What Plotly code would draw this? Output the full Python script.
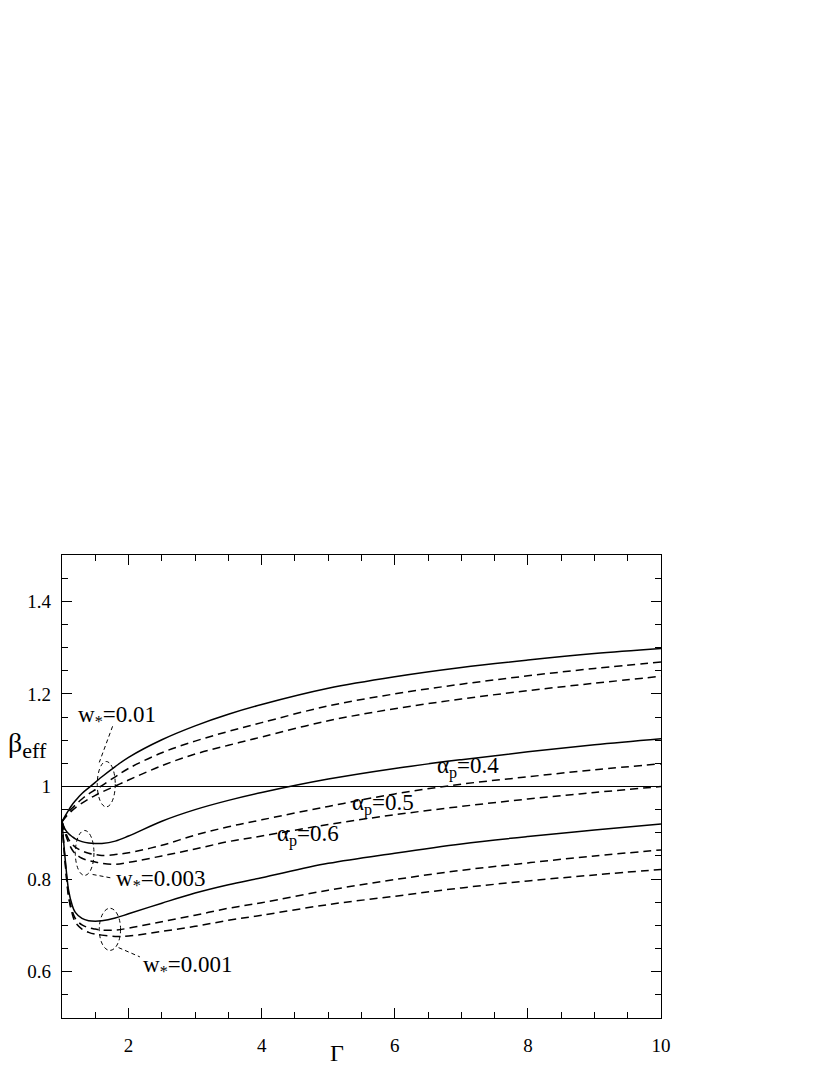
import plotly.graph_objects as go

gamma = [1, 1.05, 1.1, 1.15, 1.2, 1.3, 1.4, 1.5, 1.6, 1.8, 2, 2.5, 3, 3.5, 4, 5, 6, 7, 8, 9, 10]

# w* = 0.01
b_01_a4 = [0.924, 0.937, 0.949, 0.960, 0.969, 0.985, 0.997, 1.009, 1.021, 1.043, 1.063, 1.101, 1.131, 1.156, 1.177, 1.212, 1.237, 1.257, 1.273, 1.287, 1.298]
b_01_a5 = [0.924, 0.935, 0.945, 0.953, 0.960, 0.973, 0.984, 0.993, 1.002, 1.021, 1.039, 1.073, 1.098, 1.119, 1.138, 1.174, 1.200, 1.221, 1.239, 1.255, 1.269]
b_01_a6 = [0.924, 0.933, 0.941, 0.948, 0.954, 0.964, 0.973, 0.981, 0.988, 1.001, 1.014, 1.045, 1.070, 1.089, 1.107, 1.142, 1.168, 1.189, 1.207, 1.223, 1.238]
# w* = 0.003
b_003_a4 = [0.924, 0.907, 0.898, 0.892, 0.887, 0.881, 0.878, 0.877, 0.877, 0.882, 0.893, 0.925, 0.950, 0.970, 0.987, 1.016, 1.039, 1.058, 1.075, 1.090, 1.103]
b_003_a5 = [0.924, 0.902, 0.886, 0.876, 0.869, 0.861, 0.856, 0.853, 0.851, 0.853, 0.857, 0.873, 0.895, 0.913, 0.928, 0.957, 0.984, 1.005, 1.021, 1.036, 1.049]
b_003_a6 = [0.924, 0.898, 0.878, 0.864, 0.855, 0.845, 0.840, 0.837, 0.834, 0.832, 0.836, 0.850, 0.865, 0.881, 0.893, 0.918, 0.939, 0.957, 0.973, 0.987, 1.000]
# w* = 0.001
b_001_a4 = [0.924, 0.840, 0.775, 0.745, 0.728, 0.715, 0.710, 0.709, 0.710, 0.716, 0.725, 0.748, 0.770, 0.788, 0.803, 0.834, 0.856, 0.876, 0.892, 0.906, 0.919]
b_001_a5 = [0.924, 0.835, 0.765, 0.733, 0.715, 0.701, 0.695, 0.692, 0.690, 0.690, 0.694, 0.708, 0.722, 0.737, 0.749, 0.776, 0.799, 0.819, 0.835, 0.850, 0.863]
b_001_a6 = [0.924, 0.830, 0.760, 0.727, 0.707, 0.692, 0.685, 0.681, 0.679, 0.676, 0.677, 0.687, 0.698, 0.711, 0.722, 0.745, 0.763, 0.781, 0.796, 0.809, 0.821]

series = [
    (b_01_a4, 'solid'), (b_01_a5, 'dash'), (b_01_a6, 'dash'),
    (b_003_a4, 'solid'), (b_003_a5, 'dash'), (b_003_a6, 'dash'),
    (b_001_a4, 'solid'), (b_001_a5, 'dash'), (b_001_a6, 'dash'),
]

SERIF = 'Liberation Serif'

fig = go.Figure()
for ys, style in series:
    fig.add_trace(go.Scatter(
        x=gamma, y=ys, mode='lines', line_shape='spline',
        line=dict(color='black', width=1.5, dash='solid' if style == 'solid' else '8px,5px'),
        showlegend=False, hoverinfo='skip'))

# horizontal reference at beta_eff = 1
fig.add_shape(type='line', xref='x', yref='y', x0=1, x1=10, y0=1, y1=1,
              line=dict(color='black', width=1))

# dashed ellipses + leaders marking curve groups
ell = dict(color='black', width=1, dash='4px,3px')
fig.add_shape(type='circle', xref='x', yref='y', x0=1.53, x1=1.80, y0=0.956, y1=1.054, line=ell)
fig.add_shape(type='line', xref='x', yref='y', x0=1.76, y0=1.130, x1=1.56, y1=1.052, line=ell)
fig.add_shape(type='circle', xref='x', yref='y', x0=1.20, x1=1.48, y0=0.808, y1=0.905, line=ell)
fig.add_shape(type='line', xref='x', yref='y', x0=1.46, y0=0.810, x1=1.76, y1=0.802, line=ell)
fig.add_shape(type='circle', xref='x', yref='y', x0=1.56, x1=1.88, y0=0.646, y1=0.737, line=ell)
fig.add_shape(type='line', xref='x', yref='y', x0=1.85, y0=0.652, x1=2.17, y1=0.632, line=ell)

font_lbl = dict(family=SERIF, size=23, color='black')
labels = [
    ('w<sub>*</sub>=0.01', 1.215, 1.152),
    ('w<sub>*</sub>=0.003', 1.785, 0.797),
    ('w<sub>*</sub>=0.001', 2.185, 0.612),
    ('α<sub>p</sub>=0.4', 6.61, 1.040),
    ('α<sub>p</sub>=0.5', 5.33, 0.961),
    ('α<sub>p</sub>=0.6', 4.195, 0.894),
]
for txt, lx, ly in labels:
    fig.add_annotation(x=lx, y=ly, xref='x', yref='y', text=txt, showarrow=False,
                       xanchor='left', yanchor='middle', font=font_lbl)

fig.add_annotation(x=-0.057, y=0.59, xref='paper', yref='paper',
                   text='β<sub><span style="font-size:22px">eff</span></sub>',
                   showarrow=False, xanchor='center', yanchor='middle',
                   font=dict(family=SERIF, size=28, color='black'))
fig.add_annotation(x=0.459, y=-0.075, xref='paper', yref='paper', text='Γ',
                   showarrow=False, xanchor='center', yanchor='middle',
                   font=dict(family=SERIF, size=24, color='black'))

axis_common = dict(
    showline=True, linecolor='black', linewidth=1.3, mirror='allticks',
    ticks='inside', ticklen=10, tickwidth=1.2, tickcolor='black',
    showgrid=False, zeroline=False,
    tickfont=dict(family=SERIF, size=19, color='black'),
)
fig.update_xaxes(range=[1, 10], tickvals=[2, 4, 6, 8, 10], ticktext=['2', '4', '6', '8', '10'],
                 minor=dict(dtick=0.5, tick0=1, ticks='inside', ticklen=6, tickwidth=1.2, tickcolor='black'),
                 ticklabelstandoff=10, **axis_common)
fig.update_yaxes(range=[0.5, 1.5], tickvals=[0.6, 0.8, 1.0, 1.2, 1.4], ticktext=['0.6', '0.8', '1', '1.2', '1.4'],
                 minor=dict(dtick=0.05, tick0=0.5, ticks='inside', ticklen=6, tickwidth=1.2, tickcolor='black'),
                 ticklabelstandoff=6, **axis_common)

# page body has an 8px margin, so the figure is sized to fit inside the window
fig.update_layout(
    width=822, height=1067,
    margin=dict(l=53.5, r=169, t=547, b=57),
    paper_bgcolor='white', plot_bgcolor='white',
)

fig.write_html('out.html')
